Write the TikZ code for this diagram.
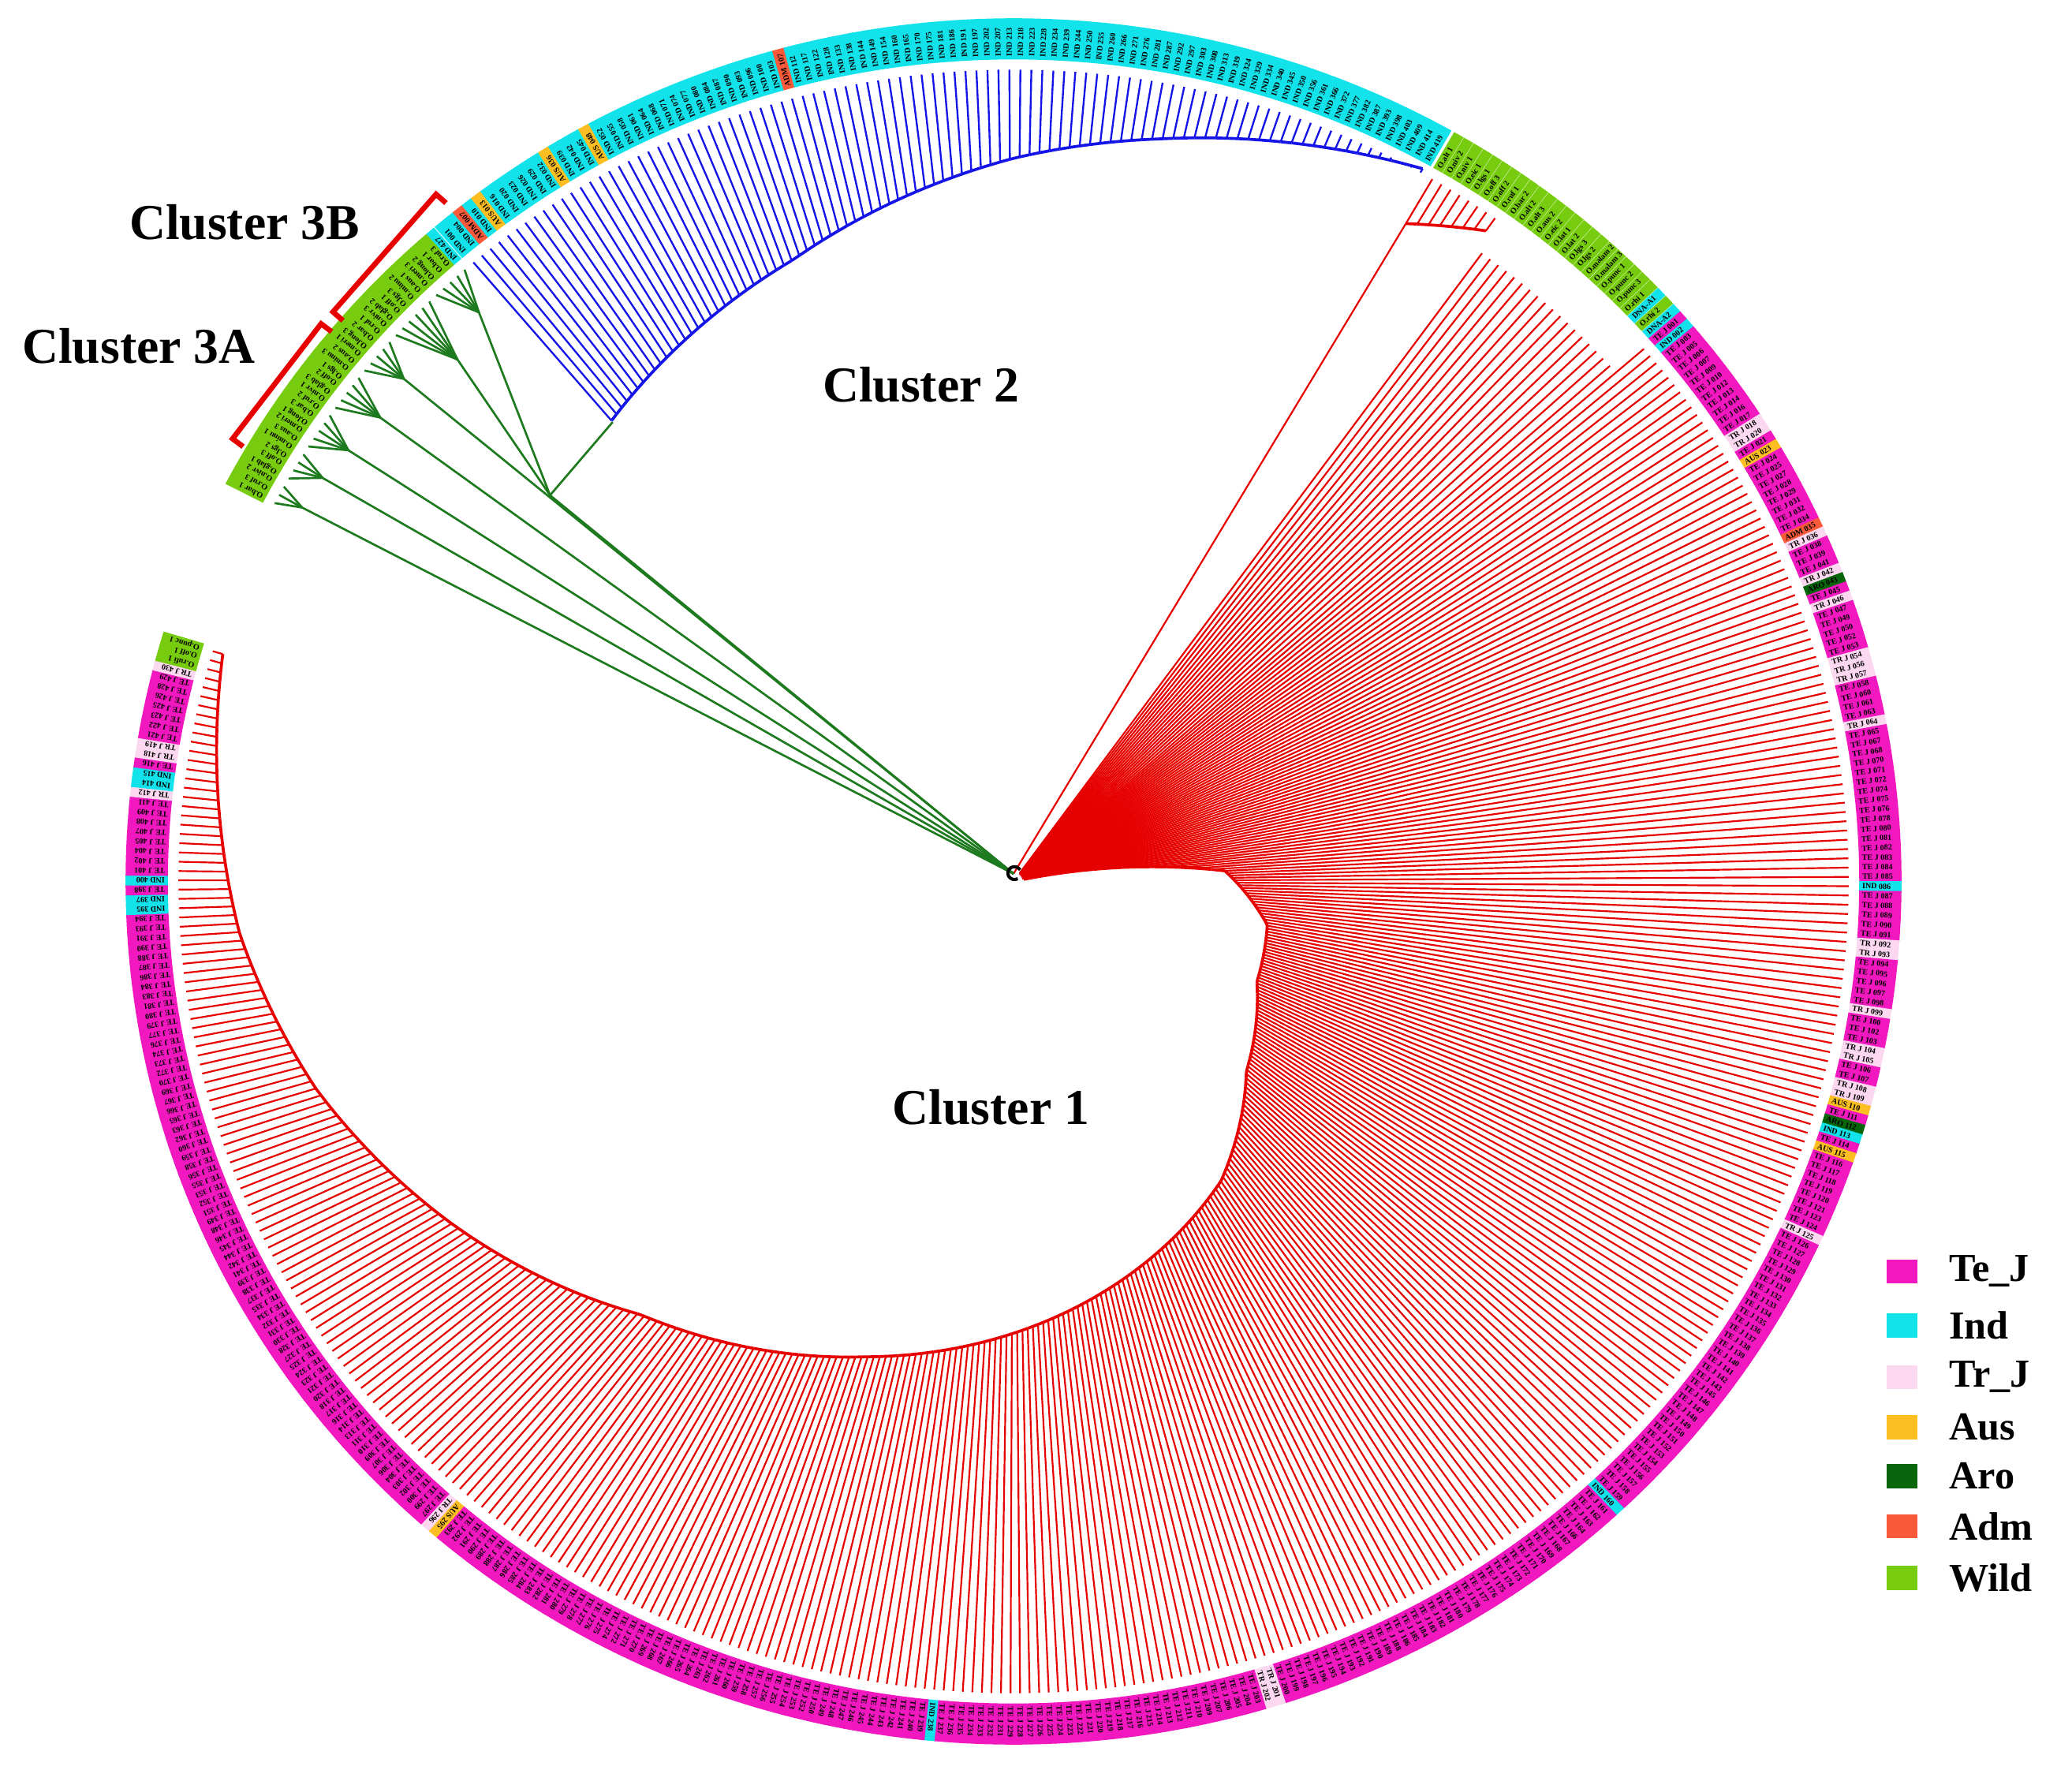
\documentclass[tikz,border=0pt]{standalone}
\usepackage{fontspec}
\setmainfont{Liberation Serif}
\definecolor{cTeJ}{HTML}{F018BE}
\definecolor{cInd}{HTML}{12E2EA}
\definecolor{cTrJ}{HTML}{FCD8F0}
\definecolor{cAus}{HTML}{FDBE22}
\definecolor{cAro}{HTML}{07650B}
\definecolor{cAdm}{HTML}{FB5A3A}
\definecolor{cWild}{HTML}{78CC10}
\definecolor{brRed}{HTML}{E60000}
\definecolor{brBlue}{HTML}{1414E6}
\definecolor{brGreen}{HTML}{1E7A1E}
\makeatletter
\pgfmathdeclarefunction{rz}{1}{\begingroup\pgfmathparse{#1>=12 ? 8 : (#1>=3 ? 8+(12-(#1))*16.889 : (#1>=-10 ? 160+(3-(#1))*2.692 : (#1>=-23 ? 195+(-10-(#1))*0.385 : (#1>=-40 ? 200+(-23-(#1))*1.765 : (#1>=-56 ? 230+(-40-(#1))*3.1875 : (#1>=-80 ? 281+(-56-(#1))*2.083 : (#1>=-107 ? 331+(-80-(#1))*2.074 : (#1>=-130 ? 387+(-107-(#1))*2.304 : (#1>=-148 ? 440+(-130-(#1))*3.444 : (#1>=-163 ? 502+(-148-(#1))*3.333 : (#1>=-176 ? 552+(-163-(#1))*2.692 : (#1>=-187 ? 587+(-176-(#1))*1.818 : 607+(-187-(#1))*1.8))))))))))))}\pgfmath@smuggleone\pgfmathresult\endgroup}
\pgfmathdeclarefunction{rb}{1}{\begingroup\pgfmathparse{#1>=109 ? 469+(131-(#1))*1.955 : (#1>=90 ? 512+(109-(#1))*2.684 : (#1>=79 ? 563+(90-(#1))*2.364 : 589+(79-(#1))*2.556))}\pgfmath@smuggleone\pgfmathresult\endgroup}
\makeatother
\def\pfxTeJ{TE J}\def\pfxTrJ{TR J}\def\pfxInd{IND}\def\pfxAus{AUS}\def\pfxAro{ARO}\def\pfxAdm{ADM}
\def\wildname{Wild}
\newcommand\wildlab[1]{\pgfmathtruncatemacro\m{mod(#1,10)}\ifcase\m O.glab\or O.nivr\or O.ruf\or O.bar\or O.long\or O.meri\or O.aus\or O.minu\or O.lgs\or O.off\fi\ \pgfmathtruncatemacro\m{mod(#1,3)+1}\m}
% #1 angle, #2 halfwidth, #3 cat, #4 number, #5 index, #6 label-prefix (A/B/C)
\newcommand\ringseg[6]{%
  \pgfmathsetmacro\ta{#1-#2}\pgfmathsetmacro\tb{#1+#2}%
  \fill[c#3] (\ta:640) -- (\tb:640) -- (\tb:672) -- (\ta:672) -- cycle;
  \edef\cc{#3}%
  \ifcsname l#6#5\endcsname
    \node[lab,rotate=#1] at (#1:642) {\csname l#6#5\endcsname};
  \else\ifx\cc\wildname
    \node[lab,rotate=#1] at (#1:642) {\wildlab{#5}};
  \else
    \node[lab,rotate=#1] at (#1:642) {\csname pfx#3\endcsname{} \ifnum#4<10 00\else\ifnum#4<100 0\fi\fi#4};
  \fi\fi}
\begin{document}
\begin{tikzpicture}[x=0.5pt,y=-0.5pt,
  redbr/.style={draw=brRed,line width=0.65pt},
  redbb/.style={draw=brRed,line width=1.1pt},
  bluebr/.style={draw=brBlue,line width=0.7pt},
  greenbr/.style={draw=brGreen,line width=0.8pt},
  lab/.style={anchor=west,inner sep=0pt,font=\fontsize{3.0}{3.2}\selectfont\bfseries},
  clab/.style={font=\fontsize{19}{22}\selectfont\bfseries},
  leg/.style={anchor=west,font=\fontsize{15}{17}\selectfont\bfseries},
  bracket/.style={draw=brRed,line width=2pt}]
\useasboundingbox (0,0) rectangle (1568,1339);
% category exceptions
\foreach \k in {1,...,23,25,387,388,389}{\expandafter\xdef\csname cA\k\endcsname{Wild}}
\foreach \k/\c in {24/Ind,26/Ind,28/Ind,40/TrJ,41/TrJ,43/Aus,52/Adm,53/TrJ,57/TrJ,58/Aro,60/TrJ,66/TrJ,67/TrJ,68/TrJ,73/TrJ,90/Ind,96/TrJ,97/TrJ,103/TrJ,107/TrJ,108/TrJ,111/TrJ,112/TrJ,113/Aus,115/Aro,116/Ind,118/Aus,127/TrJ,161/Ind,200/TrJ,201/TrJ,235/Ind,289/Aus,290/TrJ,361/Ind,362/Ind,364/Ind,373/TrJ,374/Ind,375/Ind,377/TrJ,378/TrJ,386/TrJ}{\expandafter\xdef\csname cA\k\endcsname{\c}}
\foreach \k/\l in {1/O.alt 1,2/O.niv 2,3/O.niv 1,4/O.eic 1,5/O.lgs 1,6/O.off 3,7/O.off 2,8/O.ruf 1,9/O.bar 2,10/O.alt 2,11/O.alt 3,12/O.aus 2,13/O.eic 2,14/O.lat 1,15/O.lat 2,16/O.lgs 3,17/O.lgs 2,18/O.malam 2,19/O.malam 3,20/O.punc 1,21/O.punc 2,22/O.punc 3,23/O.rhi 1,24/DNA-A1,25/O.rhi 2,26/DNA-A2,387/O.rufi 1,388/O.off 1,389/O.punc 1}{\expandafter\xdef\csname lA\k\endcsname{\l}}
\foreach \k/\c in {3/Adm,5/Aus,12/Aus,16/Aus,34/Adm}{\expandafter\xdef\csname cB\k\endcsname{\c}}
\begin{scope}[shift={(767,667)},yscale=-0.972]
\coordinate (R) at (0,6);
\coordinate (X) at (139.4:462);
% ---------- cluster 1 (red) ----------
\draw[redbr] (R) -- (59.9:592);
\foreach \i in {1,...,389}{
  \pgfmathsetmacro\t{\i<27 ? 59.9-(\i-1)*0.73 : 41.65-(\i-26)*0.656}
  \pgfmathsetmacro\tn{\i<26 ? \t-0.73 : \t-0.656}
  \def\tip{632}
  \ifnum\i<9
    \pgfmathsetmacro\r{588+4*\i}\pgfmathsetmacro\rn{592+4*\i}
  \else
    \pgfmathsetmacro\r{rz(\t)}\pgfmathsetmacro\rn{rz(\tn)}
    \ifnum\i<27 \def\tip{604}\fi
  \fi
  \draw[redbr] (\t:\r) -- (\t:\tip);
  \ifnum\i<389 \ifnum\i=8 \else \draw[redbb] (\t:\r) -- (\tn:\rn); \fi\fi
  \ifcsname cA\i\endcsname \edef\cat{\csname cA\i\endcsname}\else\def\cat{TeJ}\fi
  \pgfmathtruncatemacro\n{\i<84 ? max(1,1+(\i-27)*1.38) : (\i<289 ? 80+(\i-84)*1.0488 : 295+(\i-289)*1.402)}
  \ringseg{\t}{0.35}{\cat}{\n}{\i}{A}
}
% ---------- cluster 2 (blue) ----------
\draw[greenbr] (R) -- (X);
\draw[greenbr] (X) -- (130.3:469);
\foreach \j in {1,...,93}{
  \pgfmathsetmacro\t{130.3-(\j-1)*0.755}
  \pgfmathsetmacro\tn{\t-0.755}
  \pgfmathsetmacro\r{rb(\t)}\pgfmathsetmacro\rn{rb(\tn)}
  \draw[bluebr] (\t:\r) -- (\t:632);
  \ifnum\j<93 \draw[bluebr,line width=1.1pt] (\t:\r) -- (\tn:\rn); \fi
  \ifcsname cB\j\endcsname \edef\cat{\csname cB\j\endcsname}\else\def\cat{Ind}\fi
  \pgfmathtruncatemacro\n{\j<34 ? 1+(\j-1)*3.2 : 107+(\j-34)*5.3}
  \ringseg{\t}{0.39}{\cat}{\n}{\j}{B}
}
% ---------- cluster 3 (green) ----------
\coordinate (G7) at (132.4:600);
\coordinate (G6) at (136.0:585);
\coordinate (G5) at (139.7:605);
\coordinate (G4) at (143.0:600);
\coordinate (G3) at (146.3:605);
\coordinate (G2) at (149.0:610);
\coordinate (G1) at (151.6:612);
\draw[greenbr] (X) -- (G6);
\draw[greenbr] (X) -- (G7);
\foreach \g in {1,...,5}{\draw[greenbr] (R) -- (G\g);}
\foreach \k in {1,...,33}{
  \pgfmathsetmacro\t{131.1+(\k-1)*0.66}
  \pgfmathtruncatemacro\g{\k<6 ? 7 : (\k<12 ? 6 : (\k<17 ? 5 : (\k<22 ? 4 : (\k<27 ? 3 : (\k<31 ? 2 : 1)))))}
  \draw[greenbr] (G\g) -- (\t:632);
  \ifnum\k=1 \ringseg{\t}{0.35}{Ind}{427}{\k}{C}\else\ringseg{\t}{0.35}{Wild}{0}{\k}{C}\fi
}
\draw[black,line width=1.2pt] (R) ++(5,3) arc[start angle=30,end angle=300,radius=5];
\end{scope}
% brackets
\draw[bracket] (259.5,242.6) -- (252,236) -- (330,147) -- (337.5,153.6);
\draw[bracket] (184,338) -- (176,332) -- (243,245) -- (251,251);
% cluster labels
\node[clab] (c3b) at (185,168) {Cluster 3B};
\node[clab] (c3a) at (105,262) {Cluster 3A};
\node[clab] (c2) at (697,291) {Cluster 2};
\node[clab] (c1) at (750,838) {Cluster 1};
% legend
\foreach \c/\l/\y in {cTeJ/Te\_J/962,cInd/Ind/1003,cTrJ/Tr\_J/1042,cAus/Aus/1080,cAro/Aro/1117,cAdm/Adm/1155,cWild/Wild/1194}{
  \fill[\c] (1428,\y-9) rectangle (1451,\y+9);
  \node[leg] at (1468,\y) {\l};
}
\end{tikzpicture}
\end{document}
